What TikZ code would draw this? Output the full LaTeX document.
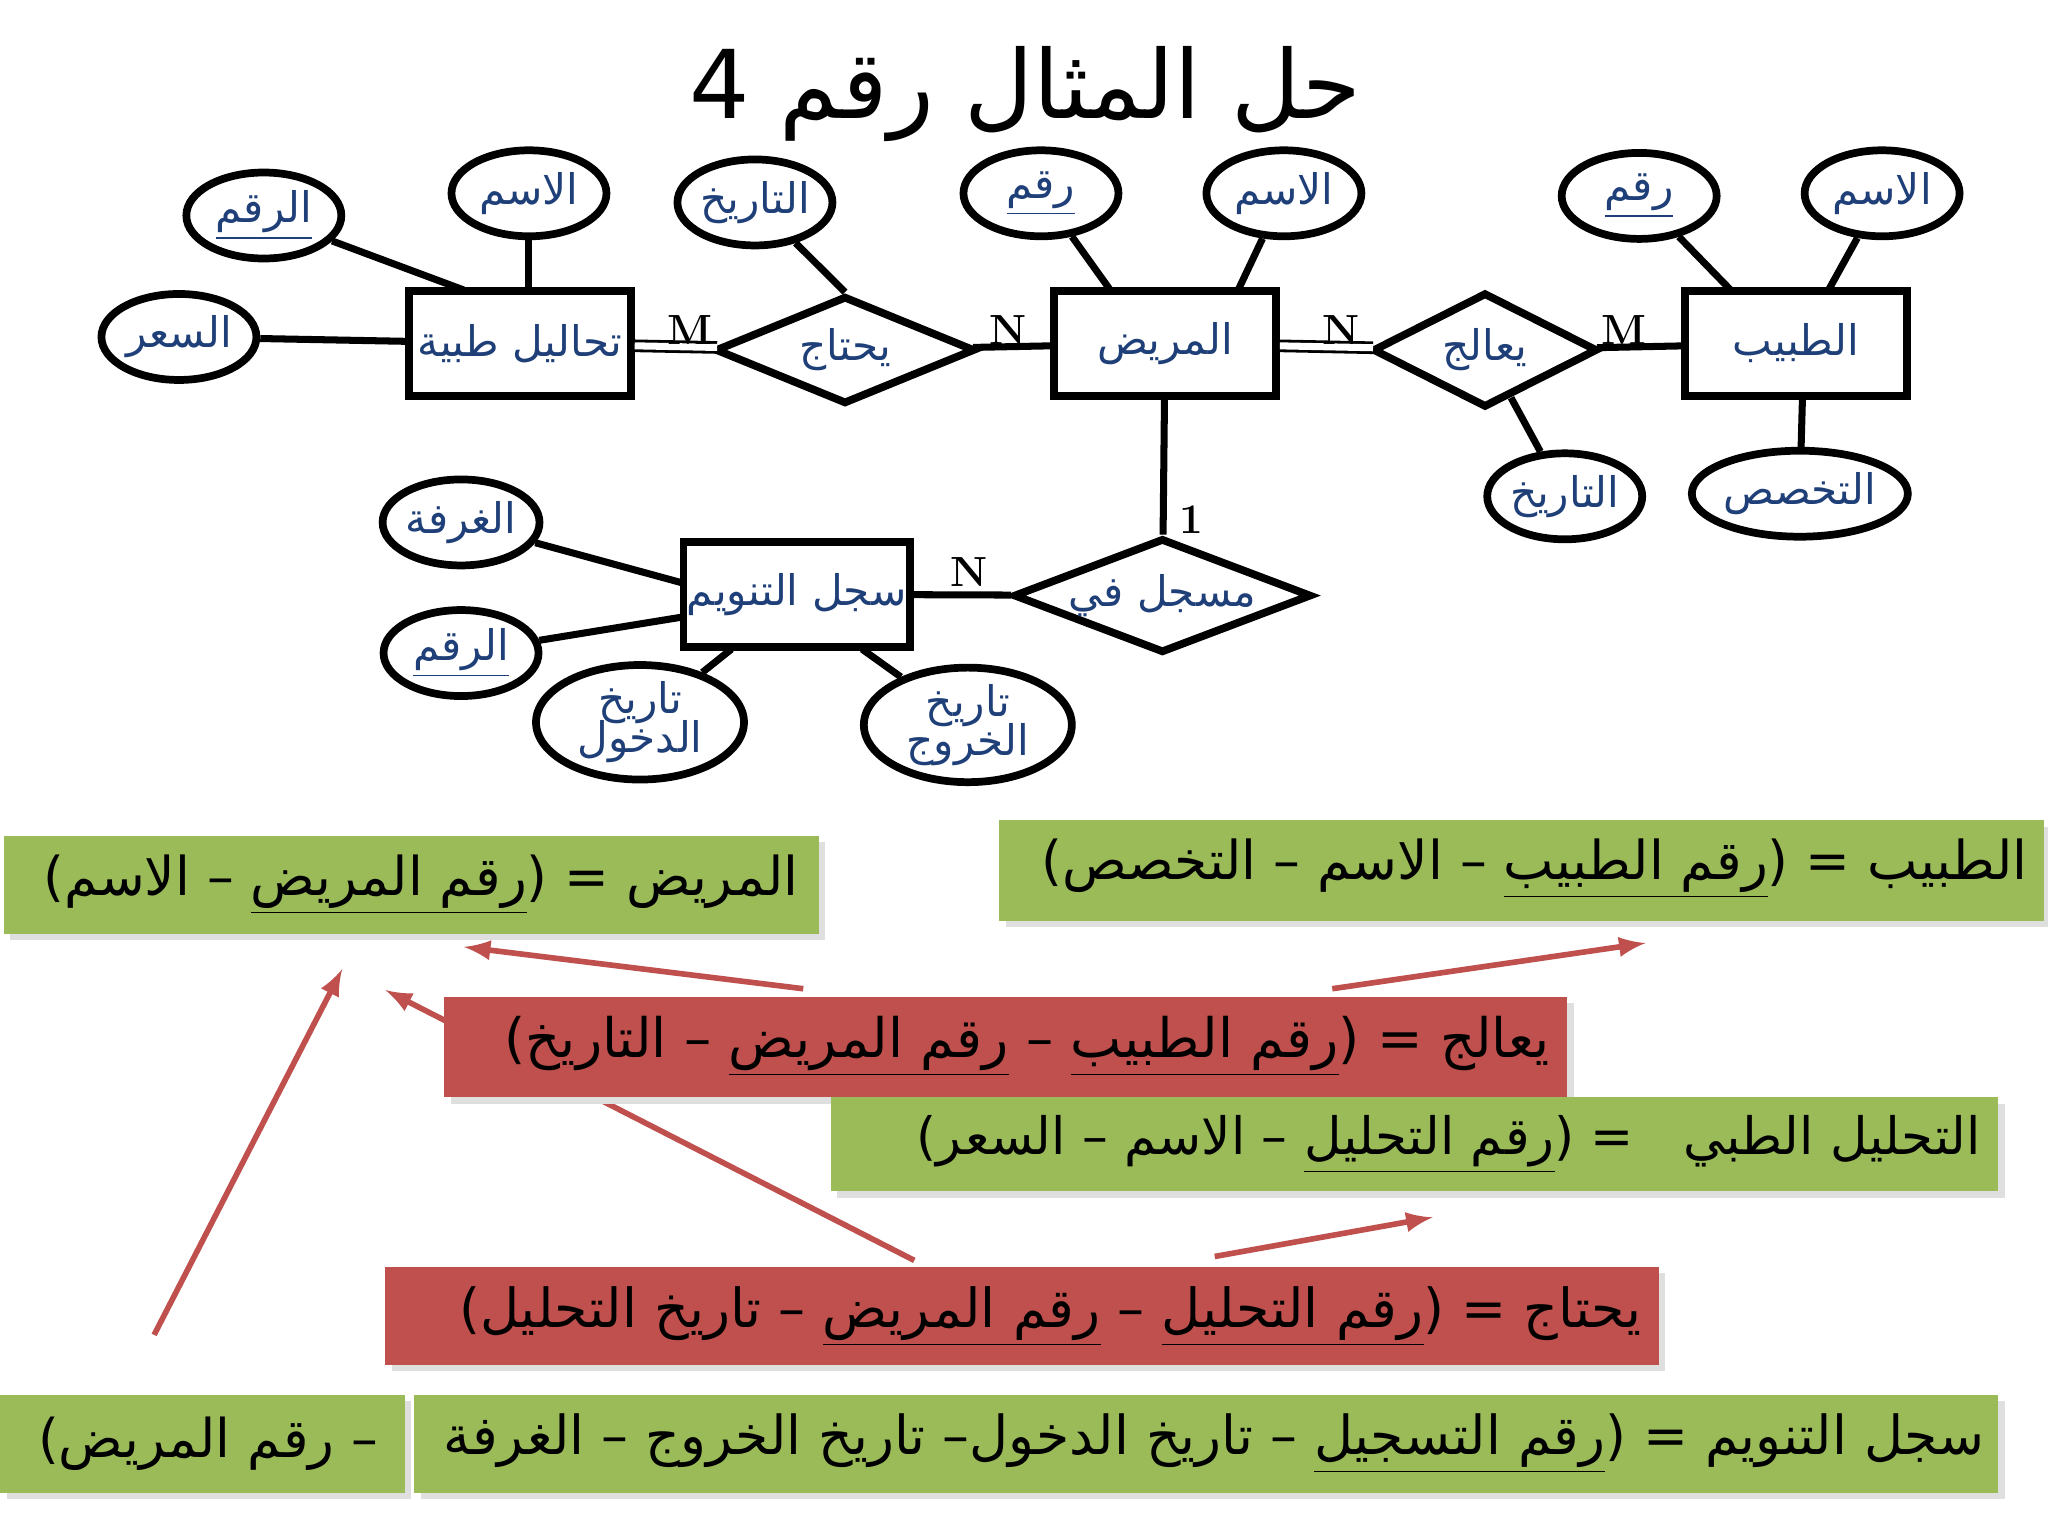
\documentclass[tikz,border=0pt]{standalone}
\usepackage{fontspec}
\usetikzlibrary{shapes.geometric}
\TeXXeTstate=1
\newfontfamily\ar[Script=Arabic]{DejaVu Sans}
\newcommand{\R}[1]{{\ar\beginR #1\endR}}
\newcommand{\ul}[1]{\underline{\hbox{\beginR #1\endR}}}
\newcommand{\bx}[2]{\resizebox{#1cm}{!}{\ar\fontsize{18}{22}\selectfont\beginR #2\endR}}
\definecolor{ink}{HTML}{1F3F78}
\definecolor{gr}{HTML}{9BBB59}
\definecolor{rd}{HTML}{C0504D}
\tikzset{
 ent/.style={draw,line width=2.2pt,minimum width=2.22cm,minimum height=1.05cm,inner sep=1pt,text=ink,font=\ar\fontsize{12}{14}\selectfont},
 rel/.style={draw,diamond,aspect=2.6,line width=2.2pt,inner sep=0pt,text=ink,font=\ar\fontsize{12}{14}\selectfont},
 att/.style={draw,ellipse,line width=2.2pt,minimum width=1.55cm,minimum height=0.86cm,inner sep=0pt,text=ink,font=\ar\fontsize{12}{13}\selectfont,align=center},
 lnk/.style={line width=2pt},
 dbl/.style={double,double distance=2pt,line width=0.8pt},
 card/.style={font=\bfseries\large},
 arr/.style={rd,line width=1.6pt,-{latex}},
 tb/.style={anchor=east,inner sep=0pt}
}
\begin{document}
\begin{tikzpicture}[x=0.01306cm,y=-0.01306cm]
\useasboundingbox (0,0) rectangle (1568,1176);
\fill[white] (0,0) rectangle (1568,1176);
\node[font=\ar\fontsize{27}{30}\selectfont] (title) at (785,72) {\R{حل المثال رقم 4}};
% entities
\node[ent] (tah) at (398,263) {\R{تحاليل طبية}};
\node[ent] (mar) at (892,263) {\R{المريض}};
\node[ent] (tab) at (1375,263) {\R{الطبيب}};
\node[ent] (sij) at (610,455) {\R{سجل التنويم}};
\node[rel,minimum width=2.6cm,minimum height=1.08cm] (yht) at (647,268) {\R{يحتاج}};
\node[rel,minimum width=2.25cm,minimum height=1.15cm] (yal) at (1137,268) {\R{يعالج}};
\node[rel,minimum width=2.68cm,minimum height=1.1cm] (msj) at (890,456) {\R{مسجل في}};
% attributes
\node[att] (a1) at (202,165) {\ar\ul{الرقم}};
\node[att] (a2) at (405,148) {\R{الاسم}};
\node[att] (a3) at (137,258) {\R{السعر}};
\node[att] (a4) at (578,155) {\R{التاريخ}};
\node[att] (a5) at (797,148) {\ar\ul{رقم}};
\node[att] (a6) at (983,148) {\R{الاسم}};
\node[att] (a7) at (1255,150) {\ar\ul{رقم}};
\node[att] (a8) at (1441,148) {\R{الاسم}};
\node[att] (a9) at (1198,380) {\R{التاريخ}};
\node[att] (a10) at (1378,378) {\R{التخصص}};
\node[att] (a11) at (353,400) {\R{الغرفة}};
\node[att] (a12) at (353,500) {\ar\ul{الرقم}};
\node[att,minimum width=2.08cm,minimum height=1.1cm] (a13) at (490,553) {\R{تاريخ}\\[-2pt]\R{الدخول}};
\node[att,minimum width=2.08cm,minimum height=1.1cm] (a14) at (741,555) {\R{تاريخ}\\[-2pt]\R{الخروج}};
\coordinate (c1) at (355,222); \coordinate (c2) at (405,222);
\coordinate (c5) at (850,222); \coordinate (c6) at (948,222);
\coordinate (c7) at (1325,222); \coordinate (c8) at (1400,222);
\coordinate (c10) at (1380,305); \coordinate (c11) at (525,447);
\coordinate (c12) at (525,472); \coordinate (c13) at (560,497);
\coordinate (c14) at (660,497);
\draw[lnk] (a1) -- (c1); \draw[lnk] (a2) -- (c2); \draw[lnk] (a3) -- (tah);
\draw[lnk] (a4) -- (yht.north); \draw[lnk] (a5) -- (c5); \draw[lnk] (a6) -- (c6);
\draw[lnk] (a7) -- (c7); \draw[lnk] (a8) -- (c8); \draw[lnk] (a9) -- (yal);
\draw[lnk] (a10) -- (c10); \draw[lnk] (a11) -- (c11); \draw[lnk] (a12) -- (c12);
\draw[lnk] (a13) -- (c13); \draw[lnk] (a14) -- (c14);
% relationships
\draw[dbl] (tah) -- (yht);
\draw[lnk] (yht) -- (mar);
\draw[dbl] (mar) -- (yal);
\draw[lnk] (yal) -- (tab);
\draw[lnk] (mar) -- (msj);
\draw[lnk] (msj) -- (sij);
\node[card] (m1) at (528,253) {M};
\node[card] (n1) at (772,253) {N};
\node[card] (n2) at (1027,253) {N};
\node[card] (m2) at (1243,253) {M};
\node[card] (o1) at (912,398) {1};
\node[card] (n3) at (742,438) {N};
% arrows
\coordinate (p1) at (615,757); \coordinate (q1) at (355,725);
\coordinate (p2) at (1020,757); \coordinate (q2) at (1260,722);
\coordinate (p3) at (700,965); \coordinate (q3) at (295,758);
\coordinate (p4) at (930,962); \coordinate (q4) at (1097,932);
\coordinate (p5) at (118,1022); \coordinate (q5) at (262,742);
\draw[arr] (p1) -- (q1); \draw[arr] (p2) -- (q2); \draw[arr] (p3) -- (q3);
\draw[arr] (p4) -- (q4); \draw[arr] (p5) -- (q5);
% boxes
\foreach \x/\y/\X/\Y/\c/\n in {3/640/627/715/gr/b1,765/628/1565/705/gr/b2,340/763/1200/840/rd/b3,636/840/1530/912/gr/b4,295/970/1270/1045/rd/b5,317/1068/1530/1143/gr/b6,0/1068/310/1143/gr/b7}{
 \fill[gray!25] (\x+5,\y+5) rectangle (\X+5,\Y+5);
 \fill[\c] (\x,\y) rectangle (\X,\Y);
}
\node[tb] (t1) at (612,677) {\bx{7.55}{المريض = (\ul{رقم المريض} – الاسم)}};
\node[tb] (t2) at (1553,665) {\bx{9.86}{الطبيب = (\ul{رقم الطبيب} – الاسم – التخصص)}};
\node[tb] (t3) at (1187,801) {\bx{10.45}{يعالج = (\ul{رقم الطبيب} – \ul{رقم المريض} – التاريخ)}};
\node[tb] (t4) at (1517,876) {\bx{10.64}{التحليل الطبي\ \ \ = (\ul{رقم التحليل} – الاسم – السعر)}};
\node[tb] (t5) at (1257,1008) {\bx{11.82}{يحتاج = (\ul{رقم التحليل} – \ul{رقم المريض} – تاريخ التحليل)}};
\node[tb] (t6) at (1520,1105) {\bx{15.41}{سجل التنويم = (\ul{رقم التسجيل} – تاريخ الدخول– تاريخ الخروج – الغرفة}};
\node[tb] (t7) at (290,1105) {\bx{3.4}{– رقم المريض)}};
\end{tikzpicture}
\end{document}
